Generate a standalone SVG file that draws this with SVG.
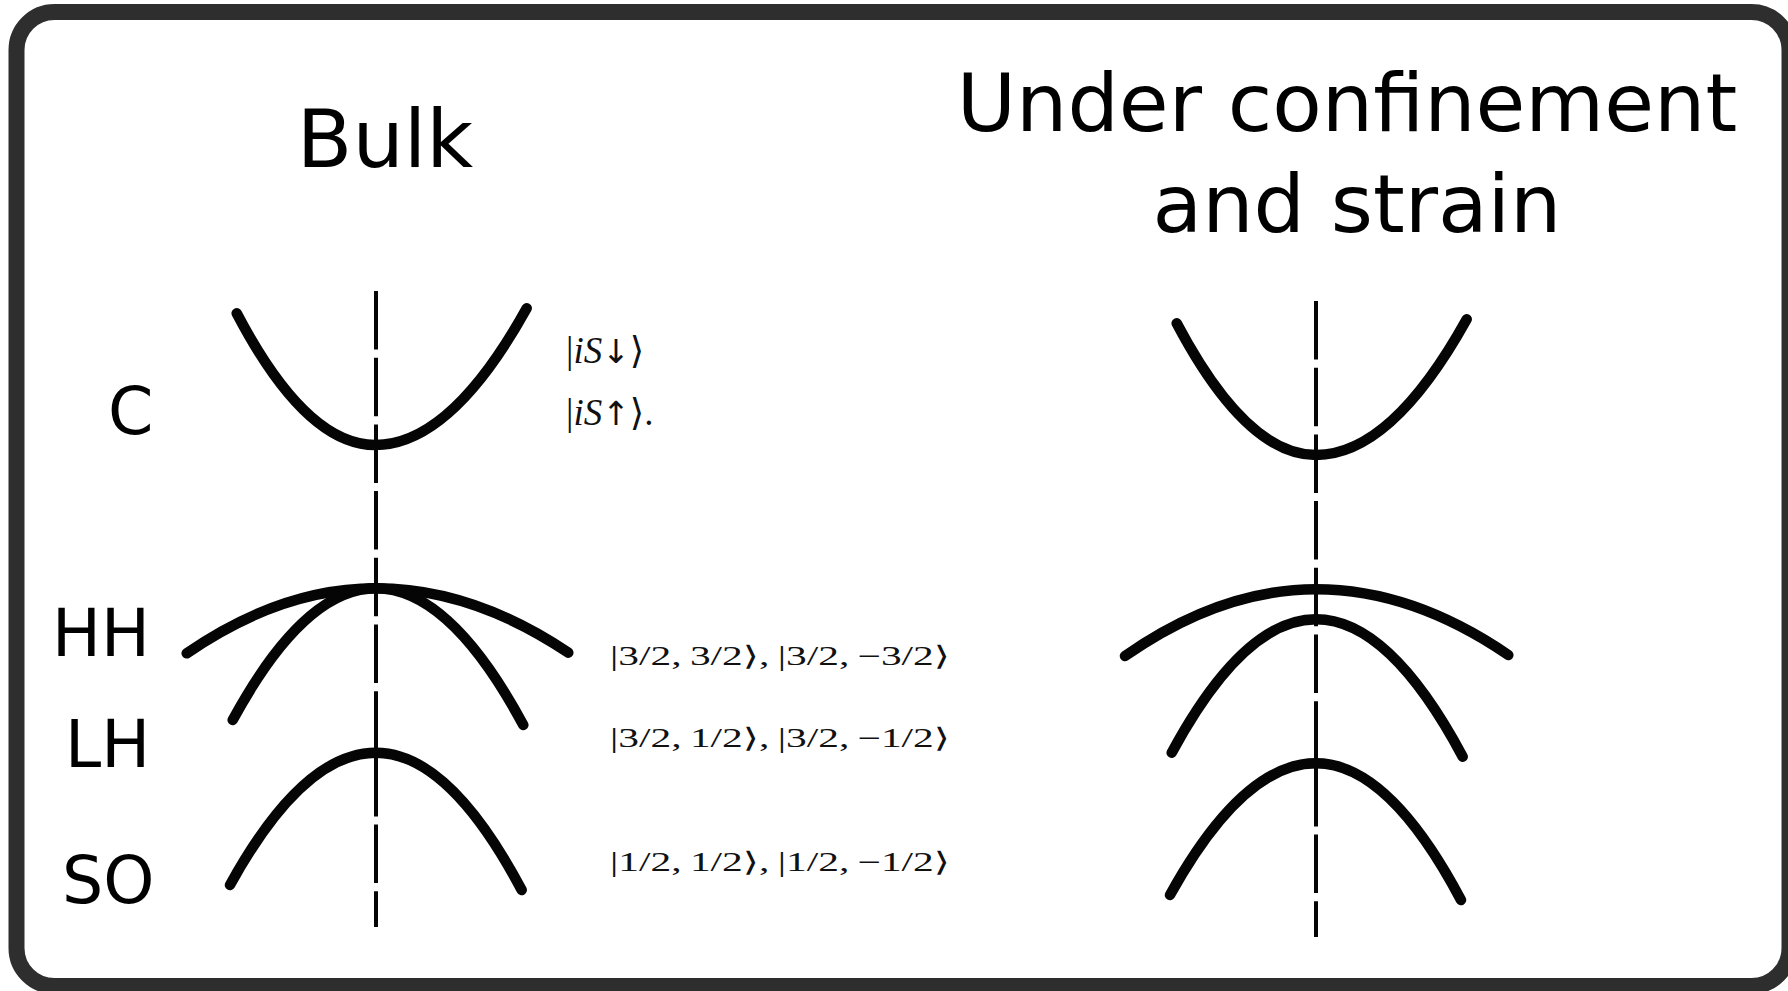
<svg xmlns="http://www.w3.org/2000/svg" width="1788" height="991" viewBox="0 0 1788 991">
<style>
.band{fill:none;stroke:#050505;stroke-width:10.5;stroke-linecap:round}
.axis{fill:none;stroke:#050505;stroke-width:4;stroke-dasharray:58.5 8.2}
.title{font-family:"DejaVu Sans","Liberation Sans",sans-serif;font-size:81px;fill:#000;text-anchor:middle}
.lbl{font-family:"DejaVu Sans","Liberation Sans",sans-serif;font-size:65px;fill:#000}
.ket{font-family:"Liberation Serif","DejaVu Serif",serif;font-size:27px;fill:#111}
.ketc{font-family:"Liberation Serif","DejaVu Serif",serif;font-size:37px;fill:#111}
.arr{font-family:"DejaVu Sans",sans-serif;font-style:normal;font-size:33px}
</style>
<rect x="0" y="0" width="1788" height="991" fill="#fff"/>
<g id="frame">
<rect x="16.5" y="12" width="1773" height="974" rx="38" ry="38" fill="#fff" stroke="#2e2e2e" stroke-width="16"/>
</g>
<g id="titles">
<text class="title" x="385" y="167">Bulk</text>
<text class="title" x="1347" y="131">Under confinement</text>
<text class="title" x="1357" y="232">and strain</text>
</g>
<g id="band-labels">
<text class="lbl" x="108" y="434">C</text>
<text class="lbl" x="52" y="656">HH</text>
<text class="lbl" x="65" y="767">LH</text>
<text class="lbl" x="62" y="903">SO</text>
</g>
<g id="axes">
<line class="axis" x1="376" y1="291" x2="376" y2="927"/>
<line class="axis" x1="1316" y1="301" x2="1316" y2="937"/>
</g>
<g id="bulk">
<path id="bulk-C" class="band" d="M236.7 313.3 Q305.8 445 375 445 Q450.8 445 526.7 308.3"/>
<path id="bulk-HH" class="band" d="M186.7 653.3 Q281.3 588.3 376 588.3 Q472.2 588.3 568.3 652.7"/>
<path id="bulk-LH" class="band" d="M232.7 720 Q304.3 588.3 376 588.3 Q449.7 588.3 523.3 725"/>
<path id="bulk-SO" class="band" d="M230 885 Q303 752.7 376 752.7 Q448.8 752.7 521.7 890"/>
</g>
<g id="strained">
<path id="str-C" class="band" d="M1176.7 323.3 Q1246.3 455 1316 455 Q1391.3 455 1466.7 319.3"/>
<path id="str-HH" class="band" d="M1125 656 Q1220.5 589.3 1316 589.3 Q1412.2 589.3 1508.3 655"/>
<path id="str-LH" class="band" d="M1171.7 752.7 Q1243.8 619.3 1316 619.3 Q1389.3 619.3 1462.7 756.7"/>
<path id="str-SO" class="band" d="M1170 895 Q1243 763.3 1316 763.3 Q1388.5 763.3 1461 900"/>
</g>
<g id="states">
<text class="ketc" x="566" y="363">|<tspan font-style="italic">iS</tspan><tspan class="arr">↓</tspan>⟩</text>
<text class="ketc" x="566" y="425">|<tspan font-style="italic">iS</tspan><tspan class="arr">↑</tspan>⟩.</text>
<text class="ket" x="610" y="665" textLength="340" lengthAdjust="spacingAndGlyphs">|3/2,&#8201;3/2⟩,&#8201;|3/2,&#8201;−3/2⟩</text>
<text class="ket" x="610" y="747" textLength="340" lengthAdjust="spacingAndGlyphs">|3/2,&#8201;1/2⟩,&#8201;|3/2,&#8201;−1/2⟩</text>
<text class="ket" x="610" y="870.5" textLength="340" lengthAdjust="spacingAndGlyphs">|1/2,&#8201;1/2⟩,&#8201;|1/2,&#8201;−1/2⟩</text>
</g>
</svg>
